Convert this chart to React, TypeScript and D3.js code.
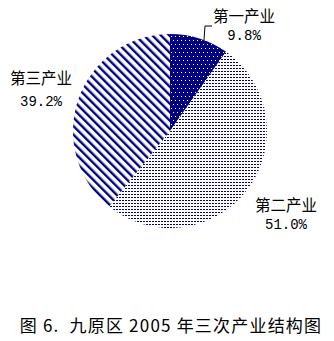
import React from "react";
import * as d3 from "d3";

const categories = ["第一产业", "第二产业", "第三产业"];
const values = [9.8, 51.0, 39.2];
const valueLabels = ["9.8%", "51.0%", "39.2%"];
const title = "图 6.  九原区 2005 年三次产业结构图";

const W = 334;
const H = 341;
const cx = 170;
const cy = 131;
const R = 97;
const navy = "#000080";

export default function App() {
  const pie = d3.pie<number>().sort(null).value((d) => d)(values);
  const arc = d3.arc<d3.PieArcDatum<number>>().innerRadius(0).outerRadius(R);
  const fills = ["url(#p1)", "url(#p2)", "url(#p3)"];
  const labelPos = [
    { x: 244, y1: 22, y2: 40 },
    { x: 286, y1: 211, y2: 229 },
    { x: 41, y1: 84, y2: 106 },
  ];
  const a0 = pie[0];
  const mid0 = (a0.startAngle + a0.endAngle) / 2;
  const ex = cx + R * Math.sin(mid0 + 0.05);
  const ey = cy - R * Math.cos(mid0 + 0.05);
  return (
    <svg
      width={W}
      height={H}
      style={{ position: "absolute", left: 0, top: 0, background: "#fff" }}
    >
      <defs>
        <pattern id="p1" width="4" height="8" patternUnits="userSpaceOnUse">
          <rect width="4" height="8" fill={navy} />
          <rect x="1" y="1" width="1" height="1" fill="#fff" />
          <rect x="3" y="5" width="1" height="1" fill="#fff" />
        </pattern>
        <pattern id="p2" width="3" height="3" patternUnits="userSpaceOnUse">
          <rect width="3" height="3" fill="#fff" />
          <rect x="0" y="0" width="2" height="1" fill={navy} />
        </pattern>
        <pattern
          id="p3"
          width="6"
          height="6"
          patternUnits="userSpaceOnUse"
          patternTransform="rotate(-45)"
        >
          <rect width="6" height="6" fill="#fff" />
          <rect x="0" y="0" width="2.4" height="6" fill={navy} />
        </pattern>
      </defs>
      <g transform={`translate(${cx},${cy})`}>
        {pie.map((d, i) => (
          <path key={categories[i]} d={arc(d) || ""} fill={fills[i]} />
        ))}
      </g>
      <polyline
        points={`${ex},${ey} 205,26 212,26`}
        fill="none"
        stroke="#000"
        strokeWidth={1}
      />
      {categories.map((c, i) => (
        <g key={c} fontFamily="'Noto Sans CJK SC', sans-serif" fontSize={15.5} fill="#000" textAnchor="middle">
          <text x={labelPos[i].x} y={labelPos[i].y1}>{c}</text>
          <text x={labelPos[i].x} y={labelPos[i].y2} fontFamily="'Liberation Mono', monospace" fontSize={14}>
            {valueLabels[i]}
          </text>
        </g>
      ))}
      <text
        x={171}
        y={332}
        textAnchor="middle"
        fontFamily="'Noto Sans CJK SC', sans-serif"
        fontSize={17}
        letterSpacing={1.2}
        fill="#000"
        style={{ whiteSpace: "pre" }}
      >
        {title}
      </text>
    </svg>
  );
}
